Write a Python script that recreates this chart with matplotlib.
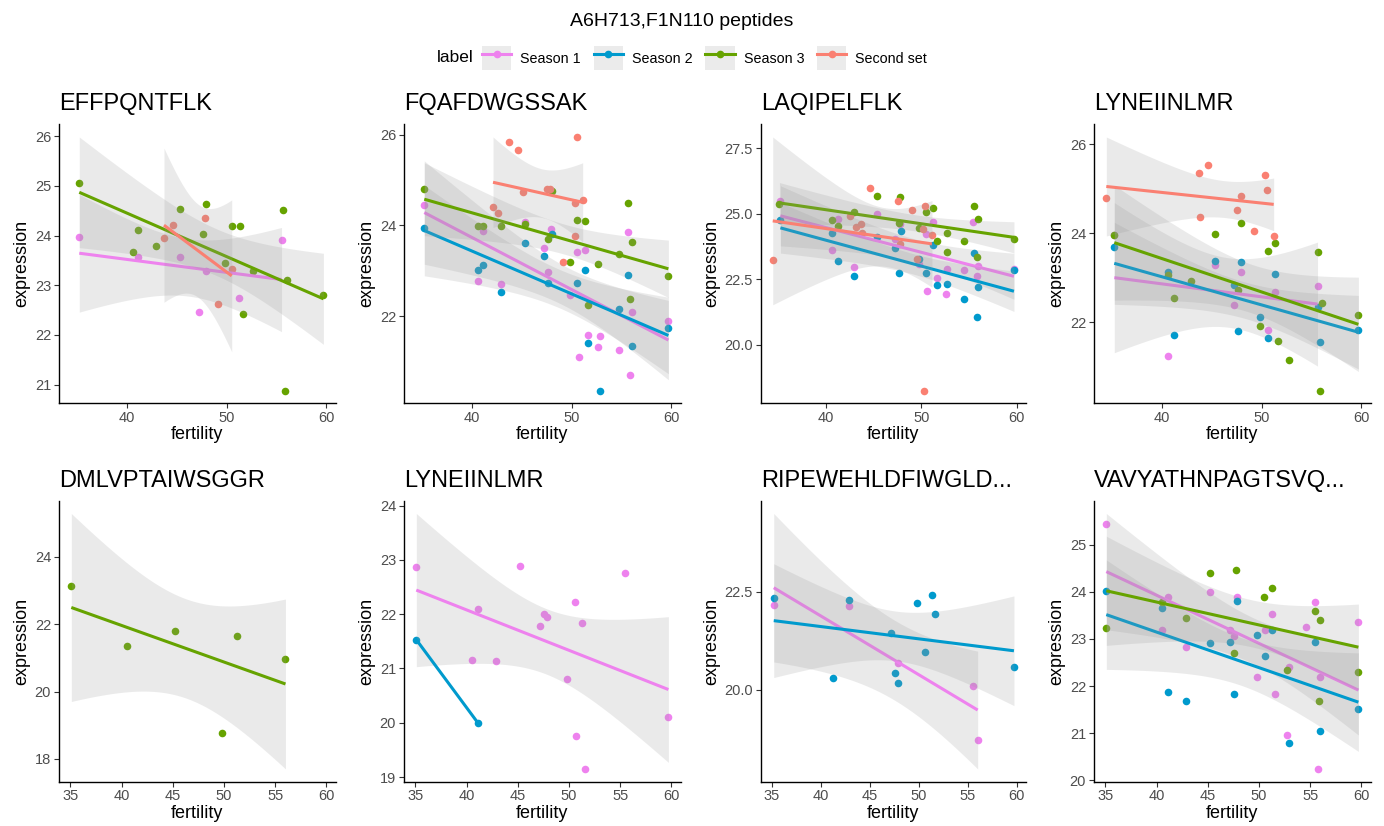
import numpy as np
import matplotlib
matplotlib.use("Agg")
import matplotlib.pyplot as plt
from matplotlib.patches import Patch
from matplotlib.lines import Line2D
from matplotlib.legend_handler import HandlerTuple

plt.rcParams["font.family"] = ["Liberation Sans", "DejaVu Sans"]

# ---- groups / colours ----
labels = ["Season 1", "Season 2", "Season 3", "Second set"]
colors = {
    "Season 1": "#EE82EE",
    "Season 2": "#009ACD",
    "Season 3": "#66A300",
    "Second set": "#FA8072",
}

# ---- data (fertility, expression) ----
# EFFPQNTFLK
effp_s1_x = [35.2, 41.1, 45.3, 47.9, 47.2, 51.2, 55.5]
effp_s1_y = [23.97, 23.56, 23.57, 23.29, 22.46, 22.75, 23.91]
effp_s3_x = [35.2, 40.6, 41.1, 42.9, 45.3, 47.9, 47.6, 49.8, 50.5, 51.3, 51.6, 52.6, 55.6, 56.0, 55.8, 59.7]
effp_s3_y = [25.05, 23.67, 24.11, 23.80, 24.54, 24.63, 24.03, 23.45, 24.20, 24.20, 22.42, 23.28, 24.51, 23.10, 20.88, 22.80]
effp_ss_x = [43.7, 44.6, 47.8, 49.1, 50.5]
effp_ss_y = [23.95, 24.21, 24.36, 22.62, 23.33]

# FQAFDWGSSAK
fqaf_s1_x = [35.2, 40.6, 41.1, 42.9, 45.3, 47.2, 47.6, 47.9, 49.8, 50.5, 51.3, 51.6, 50.7, 52.6, 52.8, 54.7, 55.6, 56.0, 55.8, 59.7]
fqaf_s1_y = [24.44, 22.78, 23.87, 22.71, 24.08, 23.51, 22.97, 23.92, 22.46, 23.41, 23.45, 21.59, 21.09, 21.33, 21.57, 21.25, 23.86, 22.09, 20.71, 21.89]
fqaf_s2_x = [35.2, 40.6, 41.1, 42.9, 45.3, 47.2, 47.6, 48.0, 50.5, 51.3, 51.6, 52.8, 54.7, 55.6, 56.0, 59.7]
fqaf_s2_y = [23.94, 23.01, 23.13, 22.53, 23.61, 23.33, 22.72, 23.80, 22.74, 23.01, 21.40, 20.36, 22.16, 22.90, 21.34, 21.74]
fqaf_s3_x = [35.2, 40.6, 41.1, 42.9, 45.3, 47.6, 48.0, 49.8, 50.5, 51.3, 51.6, 52.6, 54.7, 55.6, 56.0, 55.8, 59.7]
fqaf_s3_y = [24.80, 23.98, 23.98, 23.98, 24.03, 23.70, 24.76, 23.20, 24.11, 24.09, 22.25, 23.15, 23.37, 24.50, 23.63, 22.37, 22.89]
fqaf_ss_x = [43.7, 44.6, 50.5, 42.1, 42.6, 45.1, 47.5, 47.8, 50.3, 51.1, 50.3, 49.1]
fqaf_ss_y = [25.84, 25.66, 25.94, 24.41, 24.28, 24.73, 24.80, 24.80, 24.49, 24.57, 23.76, 23.20]

# LAQIPELFLK
laqi_s1_x = [35.2, 40.6, 41.2, 42.9, 45.3, 47.2, 47.8, 49.7, 50.5, 50.6, 51.2, 51.6, 52.6, 52.7, 54.5, 55.4, 55.8, 55.9, 59.7]
laqi_s1_y = [25.49, 23.63, 24.81, 22.98, 25.00, 24.02, 24.59, 23.08, 24.21, 22.04, 24.69, 22.57, 21.94, 22.88, 22.85, 24.67, 22.62, 23.00, 22.89]
laqi_s2_x = [35.2, 40.6, 41.2, 42.9, 45.3, 47.2, 47.6, 47.9, 49.7, 50.5, 51.2, 51.6, 52.7, 54.5, 55.5, 55.9, 55.8, 59.7]
laqi_s2_y = [24.76, 24.26, 23.19, 22.64, 24.13, 23.68, 22.75, 24.35, 23.26, 22.74, 23.82, 22.28, 22.34, 21.74, 23.51, 22.20, 21.05, 22.84]
laqi_s3_x = [35.1, 40.6, 41.2, 42.9, 45.3, 47.8, 47.6, 49.7, 50.5, 51.2, 51.6, 52.7, 52.7, 54.5, 55.5, 55.9, 55.8, 59.7]
laqi_s3_y = [25.36, 24.77, 24.55, 25.08, 25.66, 25.65, 24.64, 24.47, 25.05, 25.20, 23.98, 24.25, 23.53, 23.95, 25.31, 24.80, 23.36, 24.03]
laqi_ss_x = [34.4, 44.6, 47.5, 49.0, 50.4, 50.2, 42.5, 43.1, 43.7, 43.8, 47.8, 49.5, 51.1, 50.3]
laqi_ss_y = [23.24, 25.98, 25.50, 25.15, 25.31, 24.40, 24.91, 24.50, 24.62, 24.28, 23.85, 23.27, 24.20, 18.26]

# LYNEIINLMR (top row)
lyne_s1_x = [35.2, 40.6, 45.3, 47.2, 47.9, 50.6, 51.3, 55.6]
lyne_s1_y = [23.96, 21.24, 23.28, 22.39, 23.14, 21.83, 22.69, 22.82]
lyne_s2_x = [35.2, 40.6, 41.2, 45.3, 47.2, 47.6, 47.9, 49.8, 50.6, 51.3, 55.6, 55.8, 59.7]
lyne_s2_y = [23.69, 23.14, 21.72, 23.38, 22.83, 21.80, 23.35, 22.13, 21.65, 23.08, 22.35, 21.55, 21.82]
lyne_s3_x = [35.2, 40.6, 41.2, 42.9, 45.3, 47.9, 47.6, 49.8, 50.6, 51.3, 51.6, 52.7, 55.6, 56.0, 55.8, 59.7]
lyne_s3_y = [23.96, 23.07, 22.54, 22.93, 23.99, 24.22, 22.72, 21.91, 23.60, 23.78, 21.59, 21.15, 23.59, 22.44, 20.47, 22.17]
lyne_ss_x = [34.4, 43.7, 44.6, 43.8, 47.5, 47.9, 49.2, 50.3, 50.5, 51.2]
lyne_ss_y = [24.79, 25.34, 25.53, 24.37, 24.53, 24.83, 24.04, 25.31, 24.97, 23.93]

# DMLVPTAIWSGGR
dmlv_s3_x = [35.1, 40.5, 45.2, 49.8, 51.3, 56.0]
dmlv_s3_y = [23.12, 21.36, 21.79, 18.77, 21.65, 20.96]

# LYNEIINLMR (bottom row)
lyn2_s1_x = [35.1, 41.1, 40.5, 42.9, 45.2, 47.2, 47.6, 47.9, 49.8, 50.6, 50.7, 51.3, 51.6, 55.5, 59.7]
lyn2_s1_y = [22.87, 22.09, 21.15, 21.14, 22.88, 21.79, 22.01, 21.95, 20.80, 22.22, 19.75, 21.84, 19.15, 22.75, 20.10]
lyn2_s2_x = [35.1, 41.1]
lyn2_s2_y = [21.53, 20.00]

# RIPEWEHLDFIWGLD...
ripe_s1_x = [35.2, 42.9, 47.9, 55.5, 56.0]
ripe_s1_y = [22.17, 22.13, 20.68, 20.10, 18.71]
ripe_s2_x = [35.2, 42.9, 41.2, 47.2, 47.6, 47.9, 49.8, 50.6, 51.3, 51.6, 59.7]
ripe_s2_y = [22.33, 22.30, 20.30, 21.46, 20.44, 20.16, 22.22, 20.96, 22.41, 21.93, 20.57]

# VAVYATHNPAGTSVQ...
vavy_s1_x = [35.1, 40.5, 41.1, 42.9, 45.2, 47.2, 47.6, 47.9, 49.8, 50.6, 51.3, 51.6, 52.7, 52.9, 54.6, 55.5, 56.0, 55.8, 59.7]
vavy_s1_y = [25.44, 23.18, 23.90, 22.82, 24.00, 23.20, 23.06, 23.90, 22.20, 23.19, 23.53, 21.83, 20.95, 22.41, 23.25, 23.78, 22.20, 20.24, 23.35]
vavy_s2_x = [35.1, 40.5, 41.1, 42.9, 45.2, 47.2, 47.6, 47.9, 49.8, 50.6, 51.3, 52.9, 55.5, 56.0, 59.7]
vavy_s2_y = [24.01, 23.65, 21.88, 21.68, 22.91, 22.93, 21.83, 23.80, 23.09, 22.64, 23.18, 20.78, 22.93, 21.05, 21.51]
vavy_s3_x = [35.1, 40.5, 42.9, 45.2, 47.6, 47.8, 50.5, 51.3, 52.7, 55.5, 56.0, 55.9, 59.7]
vavy_s3_y = [23.23, 23.78, 23.44, 24.39, 22.71, 24.46, 23.90, 24.09, 22.34, 23.59, 23.40, 21.68, 22.30]

# tick labels
xticks_top = [40, 50, 60]
xticks_bottom = [35, 40, 45, 50, 55, 60]

panels = [
    ("EFFPQNTFLK", 0, {"Season 1": (effp_s1_x, effp_s1_y), "Season 3": (effp_s3_x, effp_s3_y),
                       "Second set": (effp_ss_x, effp_ss_y)}, [21, 22, 23, 24, 25, 26]),
    ("FQAFDWGSSAK", 0, {"Season 1": (fqaf_s1_x, fqaf_s1_y), "Season 2": (fqaf_s2_x, fqaf_s2_y),
                        "Season 3": (fqaf_s3_x, fqaf_s3_y), "Second set": (fqaf_ss_x, fqaf_ss_y)}, [22, 24, 26]),
    ("LAQIPELFLK", 0, {"Season 1": (laqi_s1_x, laqi_s1_y), "Season 2": (laqi_s2_x, laqi_s2_y),
                       "Season 3": (laqi_s3_x, laqi_s3_y), "Second set": (laqi_ss_x, laqi_ss_y)},
     [20.0, 22.5, 25.0, 27.5]),
    ("LYNEIINLMR", 0, {"Season 1": (lyne_s1_x, lyne_s1_y), "Season 2": (lyne_s2_x, lyne_s2_y),
                       "Season 3": (lyne_s3_x, lyne_s3_y), "Second set": (lyne_ss_x, lyne_ss_y)}, [22, 24, 26]),
    ("DMLVPTAIWSGGR", 1, {"Season 3": (dmlv_s3_x, dmlv_s3_y)}, [18, 20, 22, 24]),
    ("LYNEIINLMR", 1, {"Season 1": (lyn2_s1_x, lyn2_s1_y), "Season 2": (lyn2_s2_x, lyn2_s2_y)},
     [19, 20, 21, 22, 23, 24]),
    ("RIPEWEHLDFIWGLD...", 1, {"Season 1": (ripe_s1_x, ripe_s1_y), "Season 2": (ripe_s2_x, ripe_s2_y)},
     [20.0, 22.5]),
    ("VAVYATHNPAGTSVQ...", 1, {"Season 1": (vavy_s1_x, vavy_s1_y), "Season 2": (vavy_s2_x, vavy_s2_y),
                               "Season 3": (vavy_s3_x, vavy_s3_y)}, [20, 21, 22, 23, 24, 25]),
]

# two-sided 95% t quantiles
T975 = {1: 12.706, 2: 4.303, 3: 3.182, 4: 2.776, 5: 2.571, 6: 2.447, 7: 2.365, 8: 2.306,
        9: 2.262, 10: 2.228, 11: 2.201, 12: 2.179, 13: 2.160, 14: 2.145, 15: 2.131,
        16: 2.120, 17: 2.110, 18: 2.101, 19: 2.093, 20: 2.086}


def lm_band(x, y, n_grid=80):
    x = np.asarray(x, float)
    y = np.asarray(y, float)
    b, a = np.polyfit(x, y, 1)
    xs = np.linspace(x.min(), x.max(), n_grid)
    fit = a + b * xs
    n = len(x)
    if n < 3:
        return xs, fit, None, None
    s = np.sqrt(np.sum((y - (a + b * x)) ** 2) / (n - 2))
    sxx = np.sum((x - x.mean()) ** 2)
    se = s * np.sqrt(1 / n + (xs - x.mean()) ** 2 / sxx)
    t = T975.get(n - 2, 2.0)
    return xs, fit, fit - t * se, fit + t * se


# ---- layout (pixels) ----
W, H = 1384, 826
col_lr = [(58.7, 336), (403.7, 681), (760.7, 1026), (1093.7, 1371)]
row_tb = [(124.3, 403.3), (500.7, 781.7)]

fig = plt.figure(figsize=(W / 100, H / 100), dpi=100)

# shared x range per row, ggplot style 5% expansion
row_x = {0: [], 1: []}
for _, row, groups, _ in panels:
    for gx, _ in groups.values():
        row_x[row].extend(gx)
row_xlim = {}
for r, vals in row_x.items():
    lo, hi = min(vals), max(vals)
    pad = (hi - lo) * 0.05
    row_xlim[r] = (lo - pad, hi + pad)

for i, (title, row, groups, yticks) in enumerate(panels):
    l, r = col_lr[i % 4]
    t, b = row_tb[row]
    ax = fig.add_axes([l / W, 1 - b / H, (r - l) / W, (b - t) / H])

    yvals = []
    for lab in labels:
        if lab not in groups:
            continue
        gx, gy = groups[lab]
        ax.scatter(gx, gy, s=30, color=colors[lab], linewidths=0, zorder=1)
        yvals.extend(gy)

    for lab in labels:
        if lab not in groups:
            continue
        gx, gy = groups[lab]
        xs, fit, lo, hi = lm_band(gx, gy)
        if lo is not None:
            ax.fill_between(xs, lo, hi, color="#999999", alpha=0.2, linewidth=0, zorder=2)
            yvals.extend(lo)
            yvals.extend(hi)
        ax.plot(xs, fit, color=colors[lab], lw=2.2, zorder=2, solid_capstyle="butt")

    ylo, yhi = min(yvals), max(yvals)
    pad = (yhi - ylo) * 0.05
    ax.set_ylim(ylo - pad, yhi + pad)
    ax.set_xlim(*row_xlim[row])
    ax.set_xticks(xticks_top if row == 0 else xticks_bottom)
    ax.set_yticks(yticks)
    if isinstance(yticks[0], float):
        ax.set_yticklabels([f"{v:.1f}" for v in yticks])

    for side in ["top", "right"]:
        ax.spines[side].set_visible(False)
    for side in ["left", "bottom"]:
        ax.spines[side].set_linewidth(1.0)
        ax.spines[side].set_color("black")
    ax.tick_params(length=3.5, width=0.8, color="#333333", labelcolor="#4D4D4D",
                   labelsize=10.5, pad=2)
    ax.set_xlabel("fertility", fontsize=13, labelpad=1)
    ax.set_ylabel("expression", fontsize=13, labelpad=3)
    ax.set_title(title, loc="left", fontsize=17, pad=10)

# ---- title and legend ----
fig.text(682 / W, 1 - 22 / H, "A6H713,F1N110 peptides", ha="center", va="center", fontsize=14)
fig.text(437 / W, 1 - 58 / H, "label", ha="left", va="center", fontsize=12.5)

handles = [
    (Patch(facecolor="#EBEBEB", edgecolor="none"),
     Line2D([], [], color=colors[lab], lw=2.2, marker="o", markersize=4.5))
    for lab in labels
]
fig.legend(handles, labels, loc="center left", bbox_to_anchor=(482 / W, 1 - 58 / H),
           ncol=4, frameon=False, fontsize=10.3, handlelength=2.05, handleheight=2.1,
           handletextpad=0.62, columnspacing=0.9, borderpad=0, borderaxespad=0,
           handler_map={tuple: HandlerTuple(ndivide=1)})

fig.savefig("out.png", dpi=100)
